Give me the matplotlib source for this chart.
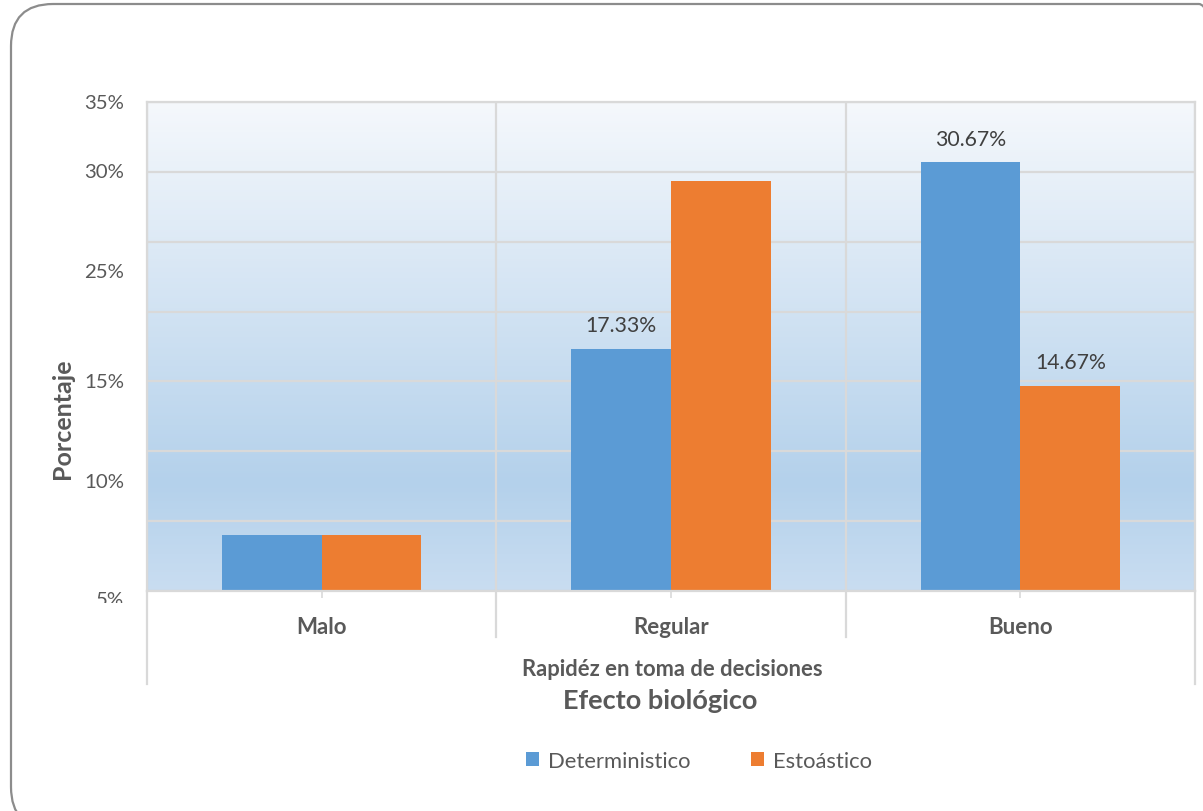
import numpy as np
import matplotlib.pyplot as plt
from matplotlib.patches import FancyBboxPatch
from matplotlib.colors import LinearSegmentedColormap
from matplotlib.transforms import Bbox
from matplotlib.lines import Line2D

plt.rcParams['font.family'] = ['Lato', 'DejaVu Sans']

categories = ['Malo', 'Regular', 'Bueno']
deterministico = [4.00, 17.33, 30.67]
estocastico = [4.00, 29.33, 14.67]
series_names = ['Deterministico', 'Estoástico']
labelled_det = [False, True, True]
labelled_est = [False, False, True]
ytick_labels = ['35%', '30%', '25%', '15%', '10%', '5%']
ytick_label_pos = [35, 30, 22.9, 15, 7.86, -0.6]

BLUE = '#5b9bd5'
ORANGE = '#ed7d31'
GREY_TXT = '#595959'
GRID = '#d9d9d9'

W, H = 1203, 812
fig = plt.figure(figsize=(W / 100, H / 100), dpi=100)

# outer rounded frame
frame = FancyBboxPatch((11 / W, (H - 830) / H), 1230 / W, 825 / H,
                       boxstyle='round,pad=0,rounding_size=0.035',
                       transform=fig.transFigure, fill=False,
                       edgecolor='#8c8c8c', linewidth=1.6, mutation_aspect=W / H)
fig.patches.append(frame)

x0, x1, ytop, ybot = 147, 1195, 103, 592
ax = fig.add_axes([x0 / W, (H - ybot) / H, (x1 - x0) / W, (ybot - ytop) / H])
ax.set_xlim(0, 3)
ax.set_ylim(0, 35)

# vertical gradient background
grad_cmap = LinearSegmentedColormap.from_list(
    'bg', [(0.0, '#c9ddf1'), (0.22, '#b4d1eb'), (1.0, '#f5f8fc')])
grad = np.linspace(0, 1, 256).reshape(-1, 1)
ax.imshow(grad, cmap=grad_cmap, aspect='auto', extent=[0, 3, 0, 35],
          origin='lower', zorder=0)

for y in range(0, 36, 5):
    ax.axhline(y, color=GRID, linewidth=1.6, zorder=0.5)

bw = 100 / 350
xs = np.arange(len(categories)) + 0.5
ax.bar(xs - bw / 2, deterministico, width=bw, color=BLUE, zorder=2, label=series_names[0])
ax.bar(xs + bw / 2, estocastico, width=bw, color=ORANGE, zorder=2, label=series_names[1])

for i, (v, show) in enumerate(zip(deterministico, labelled_det)):
    if show:
        ax.text(xs[i] - bw / 2, v + 1.0, f'{v:.2f}%', ha='center', va='bottom',
                fontsize=15.3, color='#404040')
for i, (v, show) in enumerate(zip(estocastico, labelled_est)):
    if show:
        ax.text(xs[i] + bw / 2, v + 1.0, f'{v:.2f}%', ha='center', va='bottom',
                fontsize=15.3, color='#404040')

for s in ax.spines.values():
    s.set_color(GRID)
    s.set_linewidth(1.6)

# category separators and edges extending below the plot
for xv, ylow in [(0, 685), (1, 638), (2, 638), (3, 685)]:
    ax.add_line(Line2D([xv, xv], [0, 1], transform=ax.get_xaxis_transform(),
                       color=GRID, linewidth=1.6, zorder=0.6))
    ax.add_line(Line2D([xv, xv], [0, -(ylow - ybot) / (ybot - ytop)],
                       transform=ax.get_xaxis_transform(), color=GRID,
                       linewidth=1.6, clip_on=False))

ax.set_xticks(xs)
ax.set_xticklabels(categories, fontsize=16, fontweight='bold')
for t in ax.get_xticklabels():
    t.set_color(GREY_TXT)
ax.tick_params(axis='x', length=5, width=1.2, color=GRID, pad=13)
ax.set_yticks([])

# y labels
for lab, pos in zip(ytick_labels, ytick_label_pos):
    yp = ax.transData.transform((0, pos))[1]
    t = fig.text(124 / W, yp / H, lab, ha='right', va='center',
                 fontsize=14.7, color=GREY_TXT)
    t.set_clip_on(True)
    t.set_clip_box(Bbox([[0, H - 604], [W, H]]))

fig.text(63 / W, (H - 419) / H, 'Porcentaje', rotation=90, ha='center', va='center',
         fontsize=18, fontweight='bold', color=GREY_TXT)

fig.text(672 / W, (H - 670) / H, 'Rapidéz en toma de decisiones', ha='center',
         va='center', fontsize=15.8, fontweight='bold', color=GREY_TXT)
fig.text(660 / W, (H - 701) / H, 'Efecto biológico', ha='center', va='center',
         fontsize=19.5, fontweight='bold', color=GREY_TXT)

leg = fig.legend(loc='center', bbox_to_anchor=(699 / W, (H - 762) / H), ncol=2,
                 frameon=False, fontsize=15.8, handlelength=0.6, handleheight=0.6,
                 handletextpad=0.4, columnspacing=2.75, labelcolor=GREY_TXT)

fig.savefig('out.png', dpi=100)
